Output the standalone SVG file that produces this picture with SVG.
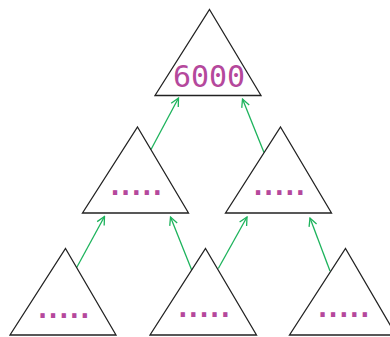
<svg xmlns="http://www.w3.org/2000/svg" width="390" height="337" viewBox="0 0 390 337">
<style>
.tri{fill:none;stroke:#222;stroke-width:1.3;stroke-linejoin:miter}
.big{font-family:"DejaVu Sans Mono",monospace;font-size:30px;fill:#b5489c;text-anchor:middle}
.dots{font-family:"DejaVu Sans Mono",monospace;font-size:26px;font-weight:bold;letter-spacing:-5.05px;fill:#b5489c}
.edge{stroke:#1db35c;stroke-width:1.3;fill:none}
</style>
<defs>
<marker id="arr" viewBox="0 0 10 10" refX="9" refY="5" markerWidth="10" markerHeight="10" markerUnits="userSpaceOnUse" orient="auto">
<polyline points="1,1 9,5 1,9" fill="none" stroke="#1db35c" stroke-width="1.3"/>
</marker>
</defs>
<g id="connectors">
<line class="edge" x1="151" y1="149.5" x2="178.5" y2="98" marker-end="url(#arr)"/>
<line class="edge" x1="264" y1="152.5" x2="242.5" y2="99" marker-end="url(#arr)"/>
<line class="edge" x1="76.7" y1="267.5" x2="104.5" y2="216.5" marker-end="url(#arr)"/>
<line class="edge" x1="191.7" y1="270" x2="170.5" y2="217" marker-end="url(#arr)"/>
<line class="edge" x1="218.3" y1="268.5" x2="247" y2="217" marker-end="url(#arr)"/>
<line class="edge" x1="330" y1="271" x2="310" y2="218" marker-end="url(#arr)"/>
</g>
<g id="root">
<polygon class="tri" points="209.5,9.5 261,95.5 155,95.5"/>
<text class="big" x="209" y="87">6000</text>
</g>
<g id="mid-left">
<polygon class="tri" points="137.5,127 188.5,213 82.5,213"/>
<text class="dots" x="107.2" y="195">.....</text>
</g>
<g id="mid-right">
<polygon class="tri" points="280.5,127 331.5,213 225.5,213"/>
<text class="dots" x="250.2" y="195">.....</text>
</g>
<g id="bot-left">
<polygon class="tri" points="65.5,248.5 116,335 10,335"/>
<text class="dots" x="34.7" y="318">.....</text>
</g>
<g id="bot-mid">
<polygon class="tri" points="205.5,248.5 256.5,335 150,335"/>
<text class="dots" x="175" y="317">.....</text>
</g>
<g id="bot-right">
<polygon class="tri" points="345.5,248.5 396,335 289.5,335"/>
<text class="dots" x="314.7" y="317">.....</text>
</g>
</svg>
